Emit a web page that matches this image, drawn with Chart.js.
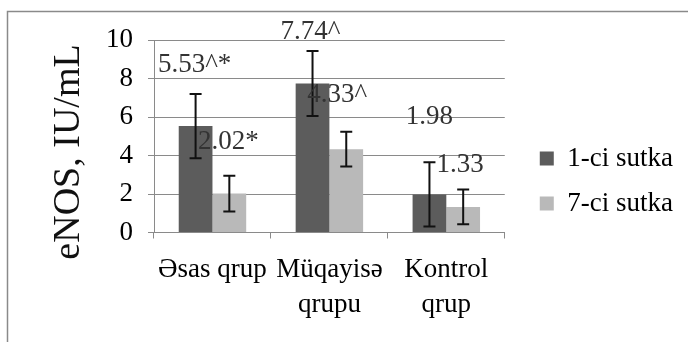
<!DOCTYPE html>
<html>
<head>
<meta charset="utf-8">
<script src="https://cdn.jsdelivr.net/npm/chart.js@4/dist/chart.umd.min.js"></script>
<style>
  html, body { margin: 0; padding: 0; background: #fff; }
  #wrap { width: 688px; height: 342px; position: relative; }
</style>
</head>
<body>
<div id="wrap"><canvas id="c"></canvas></div>
<script>
// eNOS levels by group, day 1 vs day 7
const categories = ["Əsas qrup", ["Müqayisə", "qrupu"], ["Kontrol", "qrup"]];
const seriesNames = ["1-ci sutka", "7-ci sutka"];
const day1Values = [5.53, 7.74, 1.98];
const day7Values = [2.02, 4.33, 1.33];
const day1Errors = [1.67, 1.69, 1.67];
const day7Errors = [0.93, 0.90, 0.90];
const day1Marks = ["^*", "^", ""];
const day7Marks = ["*", "^", ""];
const yTicks = [0, 2, 4, 6, 8, 10];
const yTitle = "eNOS, IU/mL";

const SERIF = '"Liberation Serif", "Times New Roman", serif';
const DARK = "#5c5c5c";
const LIGHT = "#b9b9b9";
const GRID = "#8a8a8a";

// pixel nudges for the value labels, relative to each bar's top centre
const labelNudge = [
  [[-1, -61], [-2, -52], [0, -77]],
  [[-1, -52], [-9, -54], [-3, -42]]
];
// extra horizontal gap between the plot and the legend
const LEGEND_SHIFT = 17;

const frame = {
  id: "frame",
  beforeDraw(chart) {
    const ctx = chart.ctx;
    ctx.save();
    ctx.strokeStyle = "#8a8a8a";
    ctx.lineWidth = 1.5;
    ctx.beginPath();
    ctx.moveTo(7.5, chart.height + 2);
    ctx.lineTo(7.5, 11.5);
    ctx.lineTo(chart.width + 2, 11.5);
    ctx.stroke();
    ctx.restore();
  }
};

const legendGap = {
  id: "legendGap",
  afterLayout(chart) {
    if (chart.legend) {
      chart.legend.left += LEGEND_SHIFT;
      chart.legend.right += LEGEND_SHIFT;
    }
  }
};

const errorBars = {
  id: "errorBars",
  afterDatasetsDraw(chart) {
    const ctx = chart.ctx;
    const y = chart.scales.y;
    const errs = [day1Errors, day7Errors];
    ctx.save();
    ctx.strokeStyle = "#111";
    ctx.lineWidth = 2;
    chart.data.datasets.forEach((ds, di) => {
      const meta = chart.getDatasetMeta(di);
      meta.data.forEach((bar, i) => {
        const v = ds.data[i];
        const e = errs[di][i];
        const x = bar.x;
        const yt = y.getPixelForValue(v + e);
        const yb = y.getPixelForValue(v - e);
        const cap = 6;
        ctx.beginPath();
        ctx.moveTo(x, yt); ctx.lineTo(x, yb);
        ctx.moveTo(x - cap, yt); ctx.lineTo(x + cap, yt);
        ctx.moveTo(x - cap, yb); ctx.lineTo(x + cap, yb);
        ctx.stroke();
      });
    });
    ctx.restore();
  }
};

const valueLabels = {
  id: "valueLabels",
  afterDatasetsDraw(chart) {
    const ctx = chart.ctx;
    const y = chart.scales.y;
    const marks = [day1Marks, day7Marks];
    ctx.save();
    ctx.font = "27px " + SERIF;
    ctx.fillStyle = "#333";
    ctx.textAlign = "center";
    ctx.textBaseline = "middle";
    chart.data.datasets.forEach((ds, di) => {
      const meta = chart.getDatasetMeta(di);
      meta.data.forEach((bar, i) => {
        const v = ds.data[i];
        const [dx, dy] = labelNudge[di][i];
        ctx.fillText(v.toFixed(2) + marks[di][i], bar.x + dx, y.getPixelForValue(v) + dy);
      });
    });
    ctx.restore();
  }
};

const axisTitle = {
  id: "axisTitle",
  afterDraw(chart) {
    const ctx = chart.ctx;
    ctx.save();
    ctx.font = "38px " + SERIF;
    ctx.fillStyle = "#111";
    ctx.textAlign = "center";
    ctx.textBaseline = "alphabetic";
    ctx.translate(79, 152);
    ctx.rotate(-Math.PI / 2);
    ctx.fillText(yTitle, 0, 0);
    ctx.restore();
  }
};

new Chart(document.getElementById("c"), {
  type: "bar",
  data: {
    labels: categories,
    datasets: [
      { label: seriesNames[0], data: day1Values, backgroundColor: DARK, borderWidth: 0 },
      { label: seriesNames[1], data: day7Values, backgroundColor: LIGHT, borderWidth: 0 }
    ]
  },
  options: {
    responsive: true,
    maintainAspectRatio: false,
    animation: false,
    events: [],
    layout: { padding: { top: 40, left: 0, right: 22, bottom: 20 } },
    categoryPercentage: 0.577,
    barPercentage: 1.0,
    plugins: {
      legend: {
        position: "right",
        align: "center",
        labels: {
          font: { family: SERIF, size: 27 },
          color: "#000",
          boxWidth: 14,
          boxHeight: 14,
          padding: 18
        }
      },
      tooltip: { enabled: false },
      title: { display: false }
    },
    scales: {
      x: {
        grid: { drawOnChartArea: false, drawTicks: true, tickLength: 6, color: GRID, lineWidth: 1 },
        border: { color: GRID, width: 1 },
        ticks: { font: { family: SERIF, size: 27, lineHeight: 1.3 }, color: "#000", padding: 14, maxRotation: 0, autoSkip: false },
        afterFit(scale) { scale.height = 89.5; }
      },
      y: {
        min: 0,
        max: 10,
        grid: { color: GRID, lineWidth: 1, tickLength: 6 },
        border: { color: GRID, width: 1 },
        afterBuildTicks(scale) { scale.ticks = yTicks.map(v => ({ value: v })); },
        ticks: { font: { family: SERIF, size: 27 }, color: "#000", padding: 15 },
        afterFit(scale) { scale.width = 154; }
      }
    }
  },
  plugins: [frame, legendGap, errorBars, valueLabels, axisTitle]
});
</script>
</body>
</html>
